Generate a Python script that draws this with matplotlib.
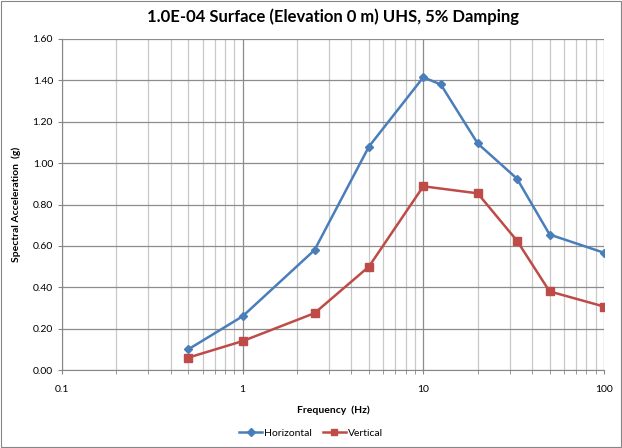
import matplotlib
matplotlib.use('Agg')
import matplotlib.pyplot as plt
from matplotlib.ticker import FixedLocator, LogLocator, NullFormatter, FuncFormatter

plt.rcParams['font.family'] = ['Lato', 'DejaVu Sans']

# Data
freq_h = [0.5, 1, 2.5, 5, 10, 12.5, 20, 33, 50, 100]
sa_h = [0.10, 0.26, 0.58, 1.08, 1.415, 1.38, 1.095, 0.925, 0.655, 0.567]
freq_v = [0.5, 1, 2.5, 5, 10, 20, 33, 50, 100]
sa_v = [0.06, 0.14, 0.275, 0.50, 0.888, 0.854, 0.625, 0.38, 0.307]

y_ticks = [0.0, 0.2, 0.4, 0.6, 0.8, 1.0, 1.2, 1.4, 1.6]
x_ticks = [0.1, 1, 10, 100]

fig = plt.figure(figsize=(6.22, 4.48), dpi=100)
ax = fig.add_axes([0.0997, 0.174, 0.8713, 0.739])

# Outer chart border
fig.patches.append(plt.Rectangle((0.002, 0.002), 0.996, 0.996, transform=fig.transFigure,
                                 fill=False, edgecolor='#868686', linewidth=0.8))

ax.plot(freq_h, sa_h, color='#4A7EBB', marker='D', markersize=4.5,
        linewidth=1.8, label='Horizontal')
ax.plot(freq_v, sa_v, color='#BE4B48', marker='s', markersize=5.5,
        linewidth=1.8, label='Vertical')

ax.set_xscale('log')
ax.set_xlim(0.1, 100)
ax.set_ylim(0, 1.6)
ax.xaxis.set_major_locator(FixedLocator(x_ticks))
ax.xaxis.set_major_formatter(FuncFormatter(lambda v, p: '%g' % v))
ax.xaxis.set_minor_locator(LogLocator(base=10, subs=range(2, 10)))
ax.xaxis.set_minor_formatter(NullFormatter())
ax.yaxis.set_major_locator(FixedLocator(y_ticks))
ax.yaxis.set_major_formatter(FuncFormatter(lambda v, p: '%.2f' % v))

ax.grid(which='major', axis='both', color='#8c8c8c', linewidth=0.9)
ax.grid(which='minor', axis='x', color='#c8c8c8', linewidth=0.9)
ax.set_axisbelow(True)

for side in ['top', 'right']:
    ax.spines[side].set_visible(False)
for side in ['left', 'bottom']:
    ax.spines[side].set_color('#868686')

ax.tick_params(axis='both', which='both', labelsize=7.5, color='#868686',
               length=3, direction='out')
ax.tick_params(axis='x', which='minor', length=3)
ax.tick_params(axis='x', pad=8)

ax.set_title('1.0E-04 Surface (Elevation 0 m) UHS, 5% Damping',
             fontsize=12, fontweight='bold', pad=12)
ax.set_xlabel('Frequency  (Hz)', fontsize=7.5, fontweight='bold', labelpad=8)
ax.set_ylabel('Spectral Acceleration  (g)', fontsize=7.5, fontweight='bold', labelpad=8)

fig.legend(loc='center', bbox_to_anchor=(0.5, 0.033), ncol=2, frameon=False,
           fontsize=7.5, handlelength=2.2, columnspacing=1.0, handletextpad=0.2,
           markerscale=0.9)

fig.savefig('out.png', dpi=100)
